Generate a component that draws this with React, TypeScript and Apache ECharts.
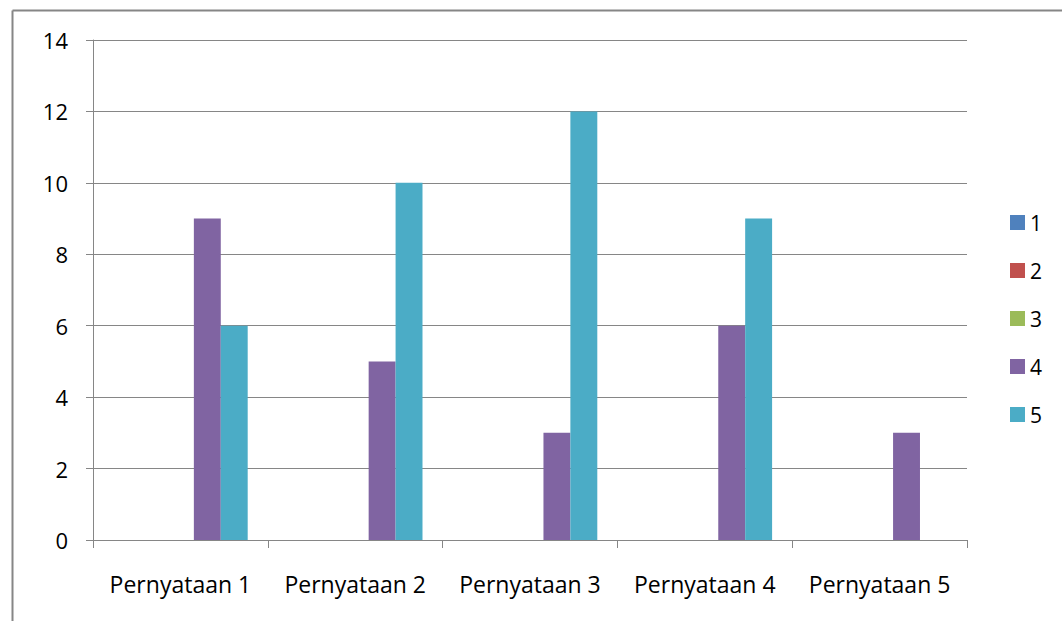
import React, { useEffect, useRef } from "react";
import * as echarts from "echarts";

const categories = ["Pernyataan 1", "Pernyataan 2", "Pernyataan 3", "Pernyataan 4", "Pernyataan 5"];
const seriesNames = ["1", "2", "3", "4", "5"];
const s1 = [0, 0, 0, 0, 0];
const s2 = [0, 0, 0, 0, 0];
const s3 = [0, 0, 0, 0, 0];
const s4 = [9, 5, 3, 6, 3];
const s5 = [6, 10, 12, 9, 0];
const colors = ["#4F81BD", "#C0504D", "#9BBB59", "#8064A2", "#4BACC6"];

const FONT = "'Open Sans', sans-serif";

export default function App() {
  const ref = useRef<HTMLDivElement>(null);
  useEffect(() => {
    document.body.style.margin = "0";
    const chart = echarts.init(ref.current!, null, { renderer: "svg" });
    const data = [s1, s2, s3, s4, s5];
    chart.setOption({
      animation: false,
      color: colors,
      grid: { left: 93, top: 40, width: 874, height: 500, containLabel: false },
      legend: {
        orient: "vertical",
        left: 1010,
        top: 212,
        padding: 0,
        itemWidth: 15,
        itemHeight: 15,
        itemGap: 27,
        icon: "rect",
        textStyle: { fontSize: 21, lineHeight: 20, color: "#000", fontFamily: FONT },
        data: seriesNames,
      },
      graphic: [
        { type: "line", shape: { x1: 12.5, y1: 10.5, x2: 1062, y2: 10.5 }, style: { stroke: "#868686", lineWidth: 2 } },
        { type: "line", shape: { x1: 12.5, y1: 10.5, x2: 12.5, y2: 621 }, style: { stroke: "#868686", lineWidth: 2 } },
      ],
      xAxis: {
        type: "category",
        data: categories,
        axisLine: { show: true, lineStyle: { color: "#868686", width: 1 } },
        axisTick: { show: true, interval: 0, length: 8, alignWithLabel: false, lineStyle: { color: "#868686" } },
        axisLabel: { interval: 0, hideOverlap: false, fontSize: 23, color: "#000", fontFamily: FONT, margin: 32 },
        splitLine: { show: false },
      },
      yAxis: {
        type: "value",
        min: 0,
        max: 14,
        interval: 2,
        axisLine: { show: true, lineStyle: { color: "#868686", width: 1 } },
        axisTick: { show: true, inside: false, length: 7, lineStyle: { color: "#868686" } },
        axisLabel: { fontSize: 22, color: "#000", fontFamily: FONT, margin: 25 },
        splitLine: { show: true, lineStyle: { color: "#868686", width: 1 } },
      },
      series: seriesNames.map((n, i) => ({
        name: n,
        type: "bar",
        data: data[i],
        barGap: "0%",
        barCategoryGap: "23%",
        itemStyle: { color: colors[i] },
      })),
    });
    return () => chart.dispose();
  }, []);
  return <div ref={ref} style={{ width: 1062, height: 621 }} />;
}
